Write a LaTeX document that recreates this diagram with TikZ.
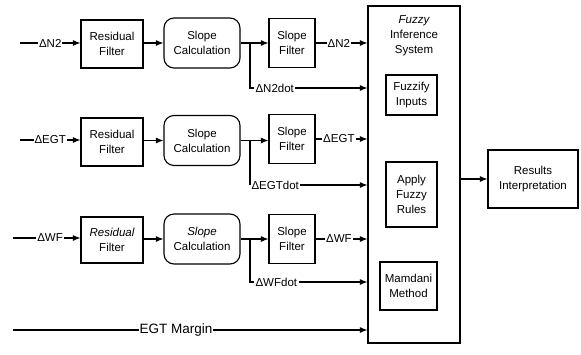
\documentclass[tikz,border=0pt]{standalone}
\usepackage{fontspec}
\setmainfont{Liberation Sans}
\usetikzlibrary{arrows.meta}
\newcommand\myfs{\fontsize{11.5}{15}\selectfont}
\begin{document}
\begin{tikzpicture}[x=1pt,y=-1pt,line width=1.1pt,
  >={Latex[length=7.5pt,width=6pt]},
  box/.style={draw,align=center,inner sep=0pt,font=\myfs},
  rbox/.style={box,minimum width=62pt,minimum height=48pt},
  cbox/.style={box,rounded corners=10pt,minimum width=76pt,minimum height=50pt},
  fbox/.style={box,minimum width=46pt,minimum height=49pt},
  lbl/.style={fill=white,inner sep=1pt,font=\myfs},
  dlbl/.style={anchor=west,inner sep=1pt,font=\myfs}]
\useasboundingbox (0,0) rectangle (581,354);

% Fuzzy inference system
\node[box,minimum width=92pt,minimum height=337pt] (fis) at (414,174.5) {};
\node[font=\myfs,align=center,anchor=north] (fist) at (414,12) {\itshape Fuzzy\\Inference\\System};
\node[box,minimum width=51pt,minimum height=40pt] (fuz) at (411.5,95) {Fuzzify\\Inputs};
\node[box,minimum width=51pt,minimum height=65pt] (app) at (411.5,194.5) {Apply\\Fuzzy\\Rules};
\node[box,minimum width=57pt,minimum height=48pt] (mam) at (408.5,286) {Mamdani\\Method};
\node[box,minimum width=90pt,minimum height=58pt] (res) at (533,179) {Results\\Interpretation};
\draw[->] (fis.east |- res.west) -- (res.west);

% Row 1
\node[rbox] (rf1) at (112,44) {Residual\\Filter};
\node[cbox] (sc1) at (202,43) {Slope\\Calculation};
\node[fbox] (sf1) at (292,43) {Slope\\Filter};
\coordinate (in1) at (20,43);
\draw[->] (in1) -- node[lbl,pos=0.5]{ΔN2} (rf1.west |- in1);
\draw[->] (rf1.east |- sc1.west) -- (sc1.west);
\draw[->] (sc1.east) -- (sf1.west);
\draw[->] (sf1.east) -- node[lbl,pos=0.45]{ΔN2} (fis.west |- sf1.east);
\coordinate (b1) at (250,43);
\node[dlbl] (d1) at (254,88) {ΔN2dot};
\draw (b1) |- (d1.west);
\draw[->] (d1.east) -- (fis.west |- d1.east);

% Row 2
\node[rbox] (rf2) at (112,142) {Residual\\Filter};
\node[cbox] (sc2) at (202,140.5) {Slope\\Calculation};
\node[fbox] (sf2) at (292,139) {Slope\\Filter};
\coordinate (in2) at (20,140);
\draw[->] (in2) -- node[lbl,pos=0.5]{ΔEGT} (rf2.west |- in2);
\draw[->] (rf2.east |- sc2.west) -- (sc2.west);
\draw[->] (sc2.east) -- (sf2.west |- sc2.east);
\draw[->] (sf2.east) -- node[lbl,pos=0.45]{ΔEGT} (fis.west |- sf2.east);
\coordinate (b2) at (250,140.5);
\node[dlbl] (d2) at (250,185) {ΔEGTdot};
\draw (b2) |- (d2.west);
\draw[->] (d2.east) -- (fis.west |- d2.east);

% Row 3
\node[rbox,minimum height=46pt] (rf3) at (112,240) {\itshape Residual\\Filter};
\node[cbox] (sc3) at (202,239) {\itshape Slope\\Calculation};
\node[fbox] (sf3) at (292,239) {Slope\\Filter};
\coordinate (in3) at (13,238);
\draw[->] (in3) -- node[lbl,pos=0.55]{ΔWF} (rf3.west |- in3);
\draw[->] (rf3.east |- sc3.west) -- (sc3.west);
\draw[->] (sc3.east) -- (sf3.west);
\draw[->] (sf3.east) -- node[lbl,pos=0.45]{ΔWF} (fis.west |- sf3.east);
\coordinate (b3) at (250,239);
\node[dlbl] (d3) at (254,282) {ΔWFdot};
\draw (b3) |- (d3.west);
\draw[->] (d3.east) -- (fis.west |- d3.east);

% EGT margin
\coordinate (in4) at (13,330);
\draw[->] (in4) -- node[lbl,pos=0.46,font=\fontsize{13.5}{15}\selectfont]{EGT Margin} (fis.west |- in4);
\end{tikzpicture}
\end{document}
